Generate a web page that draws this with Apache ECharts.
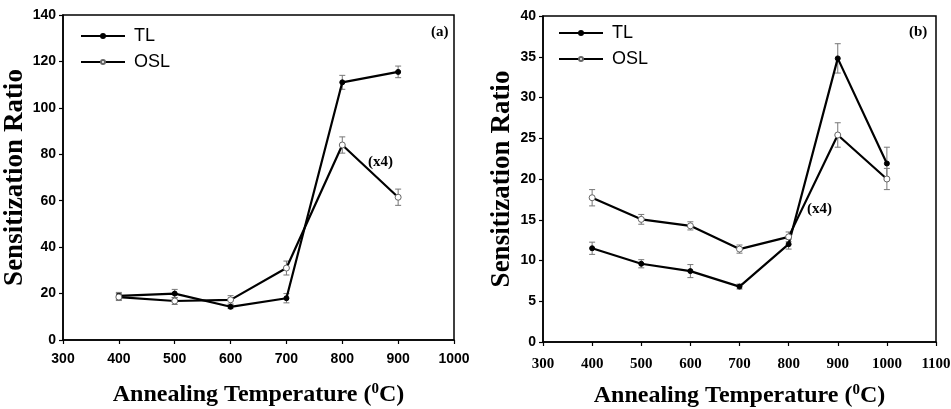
<!DOCTYPE html>
<html><head><meta charset="utf-8">
<script src="https://cdn.jsdelivr.net/npm/echarts@6/dist/echarts.min.js"></script>
<style>html,body{margin:0;padding:0;background:#fff}#c{width:951px;height:409px}</style>
</head><body><div id="c"></div>
<script>
// Panel (a)
const tempsA = [400, 500, 600, 700, 800, 900];
const tlA = [19, 20, 14.3, 18, 111, 115.5];
const tlErrA = [1.5, 1.8, 0.8, 2, 3, 2.5];
const oslA = [18.5, 16.8, 17.3, 31, 84, 61.5];
const oslErrA = [1.5, 1.5, 1.8, 3, 3.5, 3.5];
// Panel (b)
const tempsB = [400, 500, 600, 700, 800, 900, 1000];
const tlB = [11.5, 9.6, 8.7, 6.8, 12, 34.8, 21.9];
const tlErrB = [0.75, 0.5, 0.8, 0.3, 0.6, 1.8, 2];
const oslB = [17.7, 15.05, 14.25, 11.4, 12.9, 25.4, 20];
const oslErrB = [1, 0.6, 0.5, 0.5, 0.6, 1.5, 1.3];
// Axis ranges
const xRangeA = [300, 1000], yRangeA = [0, 140];
const xRangeB = [300, 1100], yRangeB = [0, 40];

const pairs = (xs, ys) => xs.map((x, i) => [x, ys[i]]);
const errData = (xs, ys, es) => xs.map((x, i) => [x, ys[i] - es[i], ys[i] + es[i]]);

function errSeries(idx, data) {
  return {
    type: 'custom', xAxisIndex: idx, yAxisIndex: idx, silent: true, z: 1,
    data: data,
    renderItem: function (params, api) {
      const x = api.value(0);
      const lo = api.coord([x, api.value(1)]);
      const hi = api.coord([x, api.value(2)]);
      const w = 3;
      const st = { stroke: '#777', lineWidth: 1 };
      return { type: 'group', children: [
        { type: 'line', shape: { x1: lo[0], y1: lo[1], x2: hi[0], y2: hi[1] }, style: st },
        { type: 'line', shape: { x1: lo[0] - w, y1: lo[1], x2: lo[0] + w, y2: lo[1] }, style: st },
        { type: 'line', shape: { x1: hi[0] - w, y1: hi[1], x2: hi[0] + w, y2: hi[1] }, style: st }
      ]};
    }
  };
}
function lineSeries(name, idx, data, filled) {
  return {
    name: name, type: 'line', xAxisIndex: idx, yAxisIndex: idx, data: data, z: 3,
    symbol: 'circle', symbolSize: filled ? 5 : 6, showSymbol: true,
    lineStyle: { color: '#000', width: 2.2 },
    itemStyle: filled ? { color: '#000', borderColor: '#000', borderWidth: 1 }
                      : { color: '#fff', borderColor: '#666', borderWidth: 1 },
    emphasis: { disabled: true }, animation: false
  };
}

const serifTitle = { fontFamily: 'Liberation Serif', fontWeight: 'bold', color: '#000' };
function xAxisDef(idx, range, labelStyle, gap) {
  return {
    type: 'value', gridIndex: idx, min: range[0], max: range[1], interval: 100,
    axisLine: { show: true, onZero: false, lineStyle: { color: '#000', width: 1.5 } },
    axisTick: { show: true, inside: false, length: 4, lineStyle: { color: '#000', width: 1.2 } },
    splitLine: { show: false },
    axisLabel: Object.assign({ margin: 12, fontSize: 14, color: '#000', formatter: v => String(v) }, labelStyle),
    name: '{t|Annealing Temperature (}{s|0}{t|C)}',
    nameLocation: 'middle', nameGap: gap,
    nameTextStyle: { rich: {
      t: Object.assign({ fontSize: 24 }, serifTitle),
      s: Object.assign({ fontSize: 15, verticalAlign: 'top', padding: [0, 0, 10, 0] }, serifTitle)
    } }
  };
}
function yAxisDef(idx, range, interval) {
  return {
    type: 'value', gridIndex: idx, min: range[0], max: range[1], interval: interval,
    axisLine: { show: true, lineStyle: { color: '#000', width: 1.5 } },
    axisTick: { show: true, inside: false, length: 4, lineStyle: { color: '#000', width: 1.2 } },
    splitLine: { show: false },
    axisLabel: { fontFamily: 'Liberation Sans', fontWeight: 'bold', fontSize: 14, color: '#000', margin: 7 },
    name: 'Sensitization Ratio', nameLocation: 'middle', nameGap: 27, nameRotate: 90,
    nameTextStyle: Object.assign({ fontSize: 27 }, serifTitle)
  };
}

const legendText = { fontFamily: 'Liberation Sans', fontSize: 18, color: '#000', padding: [0, 0, 0, 4] };
const option = {
  backgroundColor: '#fff',
  animation: false,
  grid: [
    { left: 63, top: 15, width: 391, height: 325, show: true, borderColor: '#000', borderWidth: 1.5, backgroundColor: 'transparent', containLabel: false, outerBoundsMode: 'none' },
    { left: 543, top: 16, width: 393, height: 326, show: true, borderColor: '#000', borderWidth: 1.5, backgroundColor: 'transparent', containLabel: false, outerBoundsMode: 'none' }
  ],
  xAxis: [
    xAxisDef(0, xRangeA, { fontFamily: 'Liberation Sans', fontWeight: 'bold' }, 42),
    xAxisDef(1, xRangeB, { fontFamily: 'Liberation Serif', fontWeight: 'bold', fontSize: 15, margin: 15 }, 41)
  ],
  yAxis: [ yAxisDef(0, yRangeA, 20), yAxisDef(1, yRangeB, 5) ],
  legend: [
    { left: 75, top: 22, orient: 'vertical', itemWidth: 44, itemHeight: 5, itemGap: 8,
      data: ['TL', 'OSL'], selectedMode: false, textStyle: legendText },
    { left: 553, top: 19, orient: 'vertical', itemWidth: 44, itemHeight: 5, itemGap: 8,
      data: ['TL', 'OSL'], selectedMode: false, textStyle: legendText }
  ],
  graphic: [
    { type: 'text', left: 431, top: 25, style: { text: '(a)', font: 'bold 15px "Liberation Serif"', fill: '#000' } },
    { type: 'text', left: 909, top: 25, style: { text: '(b)', font: 'bold 15px "Liberation Serif"', fill: '#000' } },
    { type: 'text', left: 368, top: 155, style: { text: '(x4)', font: 'bold 15px "Liberation Serif"', fill: '#000' } },
    { type: 'text', left: 807, top: 202, style: { text: '(x4)', font: 'bold 15px "Liberation Serif"', fill: '#000' } }
  ],
  series: [
    errSeries(0, errData(tempsA, tlA, tlErrA)),
    errSeries(0, errData(tempsA, oslA, oslErrA)),
    lineSeries('TL', 0, pairs(tempsA, tlA), true),
    lineSeries('OSL', 0, pairs(tempsA, oslA), false),
    errSeries(1, errData(tempsB, tlB, tlErrB)),
    errSeries(1, errData(tempsB, oslB, oslErrB)),
    lineSeries('TL', 1, pairs(tempsB, tlB), true),
    lineSeries('OSL', 1, pairs(tempsB, oslB), false)
  ]
};
const chart = echarts.init(document.getElementById('c'), null, { renderer: 'canvas' });
chart.setOption(option);
</script>
</body></html>
